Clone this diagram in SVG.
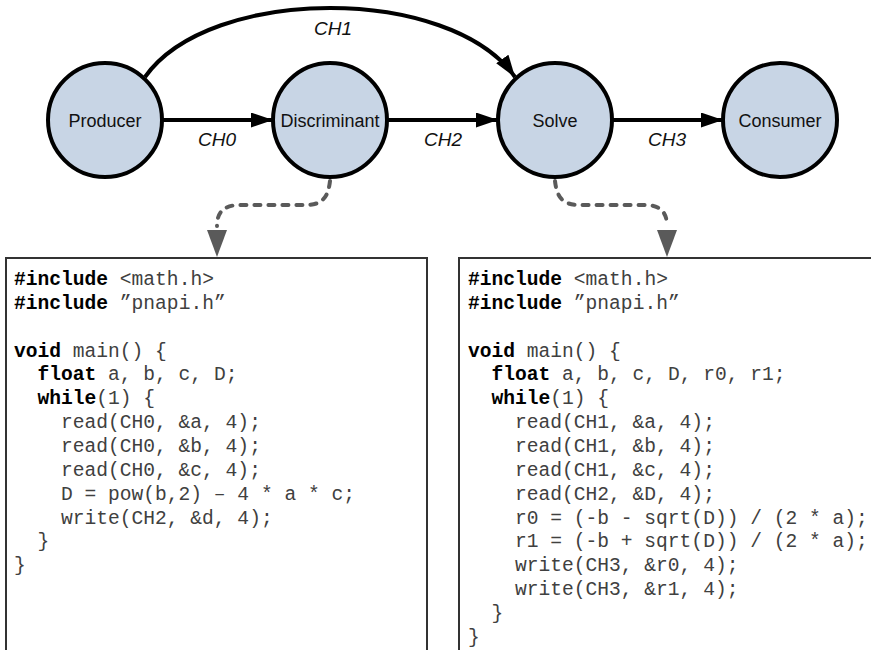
<svg xmlns="http://www.w3.org/2000/svg" width="871" height="650" viewBox="0 0 871 650">
  <style>
    .node circle { fill: #c8d5e5; stroke: #000; stroke-width: 4; }
    .node text { font-family: "Liberation Sans", Arial, sans-serif; font-size: 18px; text-anchor: middle; fill: #111; }
    .edge { fill: none; stroke: #000; stroke-width: 4; }
    .elabel { font-family: "Liberation Sans", Arial, sans-serif; font-size: 19px; font-style: italic; text-anchor: middle; fill: #111; }
    .link { fill: none; stroke: #5a5a5a; stroke-width: 4; stroke-linecap: round; stroke-dasharray: 6 8; }
    .linkhead { fill: #5a5a5a; }
    .box { fill: #fff; stroke: #333; stroke-width: 2; }
    .code { font-family: "Liberation Mono", "Courier New", monospace; font-size: 19.6px; fill: #404040; white-space: pre; }
    .kw { font-weight: bold; fill: #000; }
  </style>
  <defs>
    <marker id="arrow" markerUnits="userSpaceOnUse" markerWidth="24" markerHeight="16" refX="22" refY="7.5" orient="auto">
      <path d="M0,0 L22,7.5 L0,15 Z" fill="#000"/>
    </marker>
  </defs>

  <!-- code listings -->
  <g id="code-discriminant">
    <rect class="box" x="6" y="258" width="421" height="420"/>
    <text class="code" x="14" y="285"><tspan class="kw">#include</tspan> &lt;math.h&gt;</text>
    <text class="code" x="14" y="308.9"><tspan class="kw">#include</tspan> ”pnapi.h”</text>
    <text class="code" x="14" y="356.6"><tspan class="kw">void</tspan> main() {</text>
    <text class="code" x="37.5" y="380.4"><tspan class="kw">float</tspan> a, b, c, D;</text>
    <text class="code" x="37.5" y="404.3"><tspan class="kw">while</tspan>(1) {</text>
    <text class="code" x="61" y="428.1">read(CH0, &amp;a, 4);</text>
    <text class="code" x="61" y="452">read(CH0, &amp;b, 4);</text>
    <text class="code" x="61" y="475.8">read(CH0, &amp;c, 4);</text>
    <text class="code" x="61" y="499.7">D = pow(b,2) – 4 * a * c;</text>
    <text class="code" x="61" y="523.5">write(CH2, &amp;d, 4);</text>
    <text class="code" x="37.5" y="547.4">}</text>
    <text class="code" x="14" y="571.2">}</text>
  </g>

  <g id="code-solve">
    <rect class="box" x="459" y="258" width="440" height="420"/>
    <text class="code" x="468" y="285"><tspan class="kw">#include</tspan> &lt;math.h&gt;</text>
    <text class="code" x="468" y="308.9"><tspan class="kw">#include</tspan> ”pnapi.h”</text>
    <text class="code" x="468" y="356.6"><tspan class="kw">void</tspan> main() {</text>
    <text class="code" x="491.5" y="380.4"><tspan class="kw">float</tspan> a, b, c, D, r0, r1;</text>
    <text class="code" x="491.5" y="404.3"><tspan class="kw">while</tspan>(1) {</text>
    <text class="code" x="515" y="428.1">read(CH1, &amp;a, 4);</text>
    <text class="code" x="515" y="452">read(CH1, &amp;b, 4);</text>
    <text class="code" x="515" y="475.8">read(CH1, &amp;c, 4);</text>
    <text class="code" x="515" y="499.7">read(CH2, &amp;D, 4);</text>
    <text class="code" x="515" y="523.5">r0 = (-b - sqrt(D)) / (2 * a);</text>
    <text class="code" x="515" y="547.4">r1 = (-b + sqrt(D)) / (2 * a);</text>
    <text class="code" x="515" y="571.2">write(CH3, &amp;r0, 4);</text>
    <text class="code" x="515" y="595.1">write(CH3, &amp;r1, 4);</text>
    <text class="code" x="491.5" y="618.9">}</text>
    <text class="code" x="468" y="642.8">}</text>
  </g>

  <!-- channels and code links -->
  <g id="connectors">
    <line class="edge" x1="162" y1="120" x2="273" y2="120" marker-end="url(#arrow)"/>
    <line class="edge" x1="387" y1="120" x2="498" y2="120" marker-end="url(#arrow)"/>
    <line class="edge" x1="612" y1="120" x2="723" y2="120" marker-end="url(#arrow)"/>
    <path class="edge" d="M145,77 C210,-15 450,-15 515,77" marker-end="url(#arrow)"/>
    <text class="elabel" x="333" y="35">CH1</text>
    <text class="elabel" x="217" y="146">CH0</text>
    <text class="elabel" x="443" y="146">CH2</text>
    <text class="elabel" x="667" y="146">CH3</text>

    <path class="link" d="M330,181 C328,199 321,205 305,205 L240,205 C223,205 217,213 217,226"/>
    <polygon class="linkhead" points="207,230 227,230 217,257"/>
    <path class="link" d="M555,181 C557,199 564,205 580,205 L645,205 C661,205 667,213 667,226"/>
    <polygon class="linkhead" points="657,230 677,230 667,257"/>
  </g>

  <!-- process nodes -->
  <g id="producer" class="node">
    <circle cx="105" cy="120" r="57"/>
    <text x="105" y="126.5">Producer</text>
  </g>
  <g id="discriminant" class="node">
    <circle cx="330" cy="120" r="57"/>
    <text x="330" y="126.5">Discriminant</text>
  </g>
  <g id="solve" class="node">
    <circle cx="555" cy="120" r="57"/>
    <text x="555" y="126.5">Solve</text>
  </g>
  <g id="consumer" class="node">
    <circle cx="780" cy="120" r="57"/>
    <text x="780" y="126.5">Consumer</text>
  </g>
</svg>
